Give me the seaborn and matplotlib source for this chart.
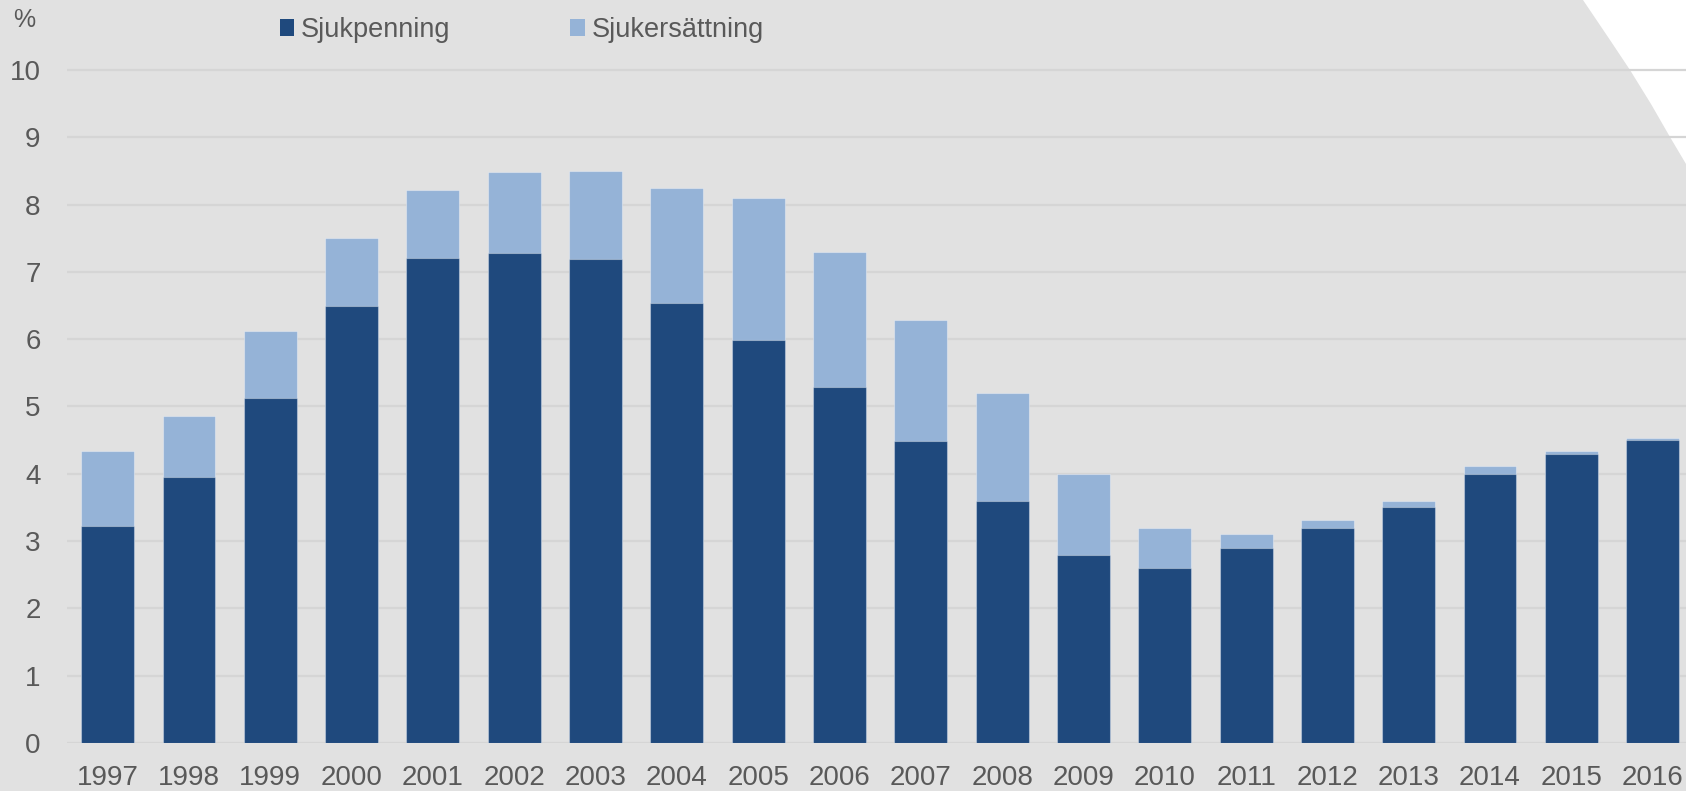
import matplotlib.pyplot as plt
import numpy as np
import pandas as pd
import seaborn as sns
from matplotlib.patches import Patch, Polygon

years = [str(y) for y in range(1997, 2017)]
sjukpenning = [3.23, 3.95, 5.13, 6.50, 7.21, 7.28, 7.19, 6.54, 5.99, 5.29,
               4.49, 3.59, 2.80, 2.60, 2.90, 3.20, 3.50, 4.00, 4.30, 4.50]
sjukersattning = [1.11, 0.91, 0.99, 1.00, 1.01, 1.20, 1.31, 1.70, 2.11, 2.01,
                  1.80, 1.61, 1.20, 0.60, 0.21, 0.11, 0.10, 0.11, 0.035, 0.025]
yticks = list(range(0, 11))

dark = '#1f497d'
light = '#95b3d7'
bg = '#e1e1e1'
grid = '#d5d5d5'
txt = '#595959'

sns.set_style('white')
plt.rcParams['font.family'] = ['Liberation Sans', 'DejaVu Sans']
plt.rcParams['font.size'] = 20

df = pd.DataFrame({'year': years, 'sp': sjukpenning, 'se': sjukersattning})
df['total'] = df.sp + df.se

W, H = 1686, 791
fig = plt.figure(figsize=(W / 100, H / 100), dpi=100, facecolor=bg)

# white curved area in the top right corner (background decoration)
pts = [(1583, 0), (1610, 40), (1630, 70), (1651, 104), (1670, 137), (1686, 164), (1686, 0)]
fig.patches.append(Polygon([(x / W, 1 - y / H) for x, y in pts], closed=True,
                           transform=fig.transFigure, facecolor='white',
                           edgecolor='none', zorder=-5))

ax = fig.add_axes([67 / W, 48 / H, 1 - 67 / W, (743 - 66.6) / H])
ax.set_facecolor('none')

sns.barplot(data=df, x='year', y='total', color=light, width=0.65, saturation=1,
            edgecolor=(1, 1, 1, 0.35), linewidth=0.8, ax=ax, zorder=3)
sns.barplot(data=df, x='year', y='sp', color=dark, width=0.65, saturation=1,
            edgecolor=(1, 1, 1, 0.35), linewidth=0.8, ax=ax, zorder=4)

ax.set_xlim(-0.5, 19.41)
ax.set_ylim(0, 10.05)
ax.set_yticks(yticks)
ax.yaxis.grid(True, color=grid, linewidth=1.6, zorder=0)
ax.set_axisbelow(True)
for s in ax.spines.values():
    s.set_visible(False)
ax.tick_params(axis='both', length=0, colors=txt, labelsize=20)
ax.tick_params(axis='x', pad=16)
ax.tick_params(axis='y', pad=19)
ax.set_xlabel('')
ax.set_ylabel('')

fig.text(13 / W, 1 - 20 / H, '%', color=txt, fontsize=18, va='center', ha='left')

handles = [Patch(facecolor=dark, edgecolor='none', label='Sjukpenning'),
           Patch(facecolor=light, edgecolor='none', label='Sjukersättning')]
fig.legend(handles=handles, loc='center left', bbox_to_anchor=(266 / W, 1 - 30 / H),
           ncol=2, frameon=False, borderpad=0, handlelength=0.55, handleheight=0.55,
           handletextpad=0.25, columnspacing=4.4, fontsize=19.5, labelcolor=txt)

fig.savefig('out.png', dpi=100, facecolor=bg)
